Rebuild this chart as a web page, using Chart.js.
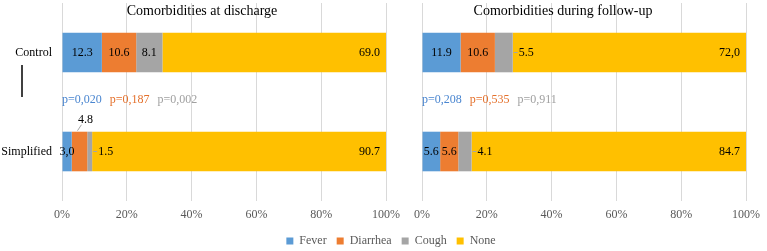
<!DOCTYPE html>
<html>
<head>
<meta charset="utf-8">
<script src="https://cdn.jsdelivr.net/npm/chart.js@4"></script>
<style>
  html, body { margin: 0; padding: 0; background: #fff; overflow: hidden; }
  #wrap { position: relative; width: 767px; height: 251px; overflow: hidden; }
  #wrap canvas { position: absolute; left: 0; top: 0; }
</style>
</head>
<body>
<div id="wrap">
  <canvas id="leftChart" width="782" height="251"></canvas>
  <canvas id="rightChart" width="767" height="251"></canvas>
</div>
<script>
const groups = ["Control", "Simplified"];
const seriesNames = ["Fever", "Diarrhea", "Cough", "None"];
const seriesColors = ["#5B9BD5", "#ED7D31", "#A5A5A5", "#FFC000"];

// Comorbidities at discharge (%)
const dischargeFever = [12.3, 3.0];
const dischargeDiarrhea = [10.6, 4.8];
const dischargeCough = [8.1, 1.5];
const dischargeNone = [69.0, 90.7];
const dischargeLabels = [["12.3", "3,0"], ["10.6", "4.8"], ["8.1", "1.5"], ["69.0", "90.7"]];
const dischargeP = ["p=0,020", "p=0,187", "p=0,002"];

// Comorbidities during follow-up (%)
const followFever = [11.9, 5.6];
const followDiarrhea = [10.6, 5.6];
const followCough = [5.5, 4.1];
const followNone = [72.0, 84.7];
const followLabels = [["11.9", "5.6"], ["10.6", "5.6"], ["5.5", "4.1"], ["72,0", "84.7"]];
const followP = ["p=0,208", "p=0,535", "p=0,911"];

const xTicks = ["0%", "20%", "40%", "60%", "80%", "100%"];

const SERIF = '"Liberation Serif", "Times New Roman", serif';
const pColors = ["#4A86D0", "#E4702B", "#A0A0A0"];

// draws value labels, title and p-values
const barLabels = {
  id: "barLabels",
  afterDatasetsDraw(chart, args, opts) {
    const ctx = chart.ctx;
    const last = chart.data.datasets.length - 1;
    ctx.save();
    ctx.font = "12px " + SERIF;
    ctx.textBaseline = "middle";
    chart.data.datasets.forEach((ds, di) => {
      chart.getDatasetMeta(di).data.forEach((bar, i) => {
        const text = opts.labels[di][i];
        const p = bar.getProps(["x", "y", "base", "height"], true);
        const left = Math.min(p.x, p.base), right = Math.max(p.x, p.base);
        const co = opts.callouts.find(c => c.d === di && c.i === i);
        ctx.fillStyle = "#000";
        ctx.strokeStyle = "#A5A5A5";
        ctx.lineWidth = 1;
        if (co && co.side === "right") {
          ctx.beginPath();
          ctx.moveTo(right + 1, p.y);
          ctx.lineTo(right + 5, p.y);
          ctx.stroke();
          ctx.textAlign = "left";
          ctx.fillText(text, right + 6, p.y);
        } else if (co && co.side === "above") {
          const cx = (left + right) / 2;
          const top = p.y - p.height / 2;
          ctx.beginPath();
          ctx.moveTo(cx + 2, top - 7);
          ctx.lineTo(cx - 2, top - 1);
          ctx.stroke();
          ctx.textAlign = "center";
          ctx.fillText(text, cx + 6, top - 12);
        } else if (di === last) {
          ctx.textAlign = "right";
          ctx.fillText(text, right - 6, p.y);
        } else {
          ctx.textAlign = "center";
          ctx.fillText(text, (left + right) / 2, p.y);
        }
      });
    });

    const area = chart.chartArea;
    // title
    ctx.font = "14px " + SERIF;
    ctx.textAlign = "center";
    ctx.fillStyle = "#000";
    ctx.fillText(opts.title, area.left + opts.titleShift, 11);

    // p-values between the bars
    ctx.font = "12px " + SERIF;
    ctx.textAlign = "left";
    let px = area.left;
    const py = (chart.scales.y.getPixelForValue(0) + chart.scales.y.getPixelForValue(1)) / 2 - 2;
    opts.pvalues.forEach((t, k) => {
      ctx.fillStyle = pColors[k];
      ctx.fillText(t, px, py);
      px += ctx.measureText(t).width + 8;
    });

    if (opts.marker) {
      ctx.strokeStyle = "#000";
      ctx.lineWidth = 1.5;
      ctx.beginPath();
      ctx.moveTo(22, 65);
      ctx.lineTo(22, 97);
      ctx.stroke();
    }
    ctx.restore();
  }
};

function makeDatasets(values) {
  return values.map((v, k) => ({
    label: seriesNames[k],
    data: v,
    backgroundColor: seriesColors[k],
    borderWidth: 0,
    barPercentage: 0.4,
    categoryPercentage: 1
  }));
}

function makeOptions(cfg) {
  return {
    indexAxis: "y",
    responsive: false,
    animation: false,
    layout: { padding: { top: 3, bottom: cfg.bottomPad } },
    scales: {
      x: {
        stacked: true,
        min: 0,
        max: 100,
        grid: { color: "#D9D9D9", drawTicks: false },
        border: { display: false },
        ticks: {
          stepSize: 20,
          padding: 7,
          color: "#595959",
          font: { family: SERIF, size: 12 },
          callback: (v) => xTicks[v / 20]
        },
        afterFit: (s) => { s.height = 24; }
      },
      y: {
        stacked: true,
        grid: { display: false, drawTicks: false },
        border: { display: false },
        ticks: {
          display: cfg.showY,
          padding: 10,
          color: "#000",
          font: { family: SERIF, size: 12 }
        },
        afterFit: (s) => {
          s.width = cfg.leftW;
          s.paddingTop = 0;
          s.paddingBottom = 0;
        }
      },
      pad: {
        axis: "y",
        type: "linear",
        position: "right",
        grid: { display: false },
        border: { display: false },
        ticks: { display: false },
        afterFit: (s) => { s.width = cfg.rightW; }
      }
    },
    plugins: {
      legend: {
        display: cfg.legend,
        position: "bottom",
        labels: {
          boxWidth: 7,
          boxHeight: 7,
          padding: 10,
          color: "#595959",
          font: { family: SERIF, size: 12 }
        }
      },
      tooltip: { enabled: false },
      barLabels: cfg.labels
    }
  };
}

function draw() {
  const legendShift = -6;
  const leftChart = new Chart("leftChart", {
    type: "bar",
    data: {
      labels: groups,
      datasets: makeDatasets([dischargeFever, dischargeDiarrhea, dischargeCough, dischargeNone])
    },
    options: makeOptions({
      showY: true, leftW: 62, rightW: 396, legend: true, bottomPad: legendShift,
      labels: {
        labels: dischargeLabels,
        callouts: [{ d: 1, i: 1, side: "above" }, { d: 2, i: 1, side: "right" }],
        title: "Comorbidities at discharge",
        titleShift: 140,
        pvalues: dischargeP,
        marker: true
      }
    }),
    plugins: [barLabels]
  });

  new Chart("rightChart", {
    type: "bar",
    data: {
      labels: groups,
      datasets: makeDatasets([followFever, followDiarrhea, followCough, followNone])
    },
    options: makeOptions({
      showY: false, leftW: 422, rightW: 21, legend: false,
      bottomPad: leftChart.legend.height + legendShift,
      labels: {
        labels: followLabels,
        callouts: [{ d: 2, i: 0, side: "right" }, { d: 2, i: 1, side: "right" }],
        title: "Comorbidities during follow-up",
        titleShift: 141,
        pvalues: followP,
        marker: false
      }
    }),
    plugins: [barLabels]
  });
}

document.fonts.load('12px "Liberation Serif"').then(draw, draw);
</script>
</body>
</html>
